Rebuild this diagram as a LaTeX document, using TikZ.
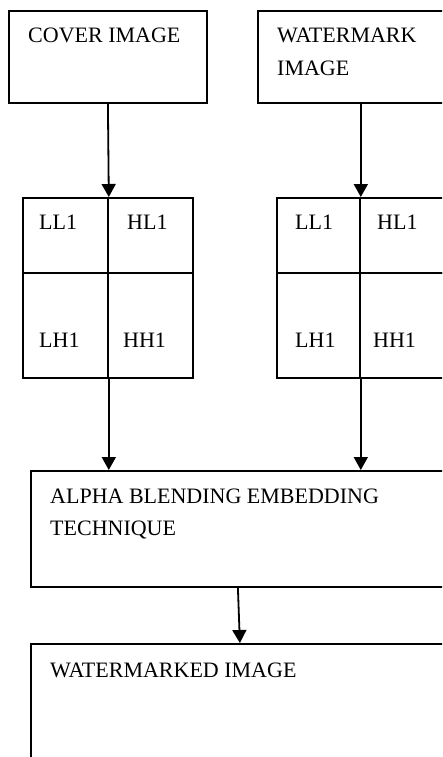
\documentclass[tikz,border=0pt]{standalone}
\usepackage{fontspec}
\setmainfont{Liberation Serif}
\usetikzlibrary{arrows.meta}

\begin{document}
\begin{tikzpicture}
		[x=1pt,y=-1pt,
		 box/.style= {draw=black,line width=1.8pt,inner sep=0pt,anchor=north west},
		 txt/.style= {inner sep=0pt,anchor=base west,align=left,font=\fontsize{22}{32.5}\selectfont},
		 flow/.style= {line width=1.8pt,-{Triangle[width=14pt,length=13pt]}}]

		\useasboundingbox (0,0) rectangle (442,757);
		\clip (0,0) rectangle (442,757);

		% input images
		\node[box,minimum width=198pt,minimum height=92pt] (cover) at (8,10) {};
		\node[txt] (covertxt) at (28,43) {COVER IMAGE};

		\node[box,minimum width=198pt,minimum height=92pt] (wm) at (257,10) {};
		\node[txt] (wmtxt) at (277,75.5) {WATERMARK\\IMAGE};

		% left sub-bands
		\node[box,minimum width=85pt,minimum height=75pt] (lll) at (22,197) {};
		\node[box,minimum width=85pt,minimum height=75pt] (lhl) at (107,197) {};
		\node[box,minimum width=85pt,minimum height=105pt] (llh) at (22,272) {};
		\node[box,minimum width=85pt,minimum height=105pt] (lhh) at (107,272) {};
		\node[txt] (llltxt) at (39,229) {LL1};
		\node[txt] (lhltxt) at (127,229) {HL1};
		\node[txt] (llhtxt) at (39,347) {LH1};
		\node[txt] (lhhtxt) at (123,347) {HH1};

		% right sub-bands
		\node[box,minimum width=83pt,minimum height=75pt] (rll) at (276,197) {};
		\node[box,minimum width=87pt,minimum height=75pt] (rhl) at (359,197) {};
		\node[box,minimum width=83pt,minimum height=105pt] (rlh) at (276,272) {};
		\node[box,minimum width=87pt,minimum height=105pt] (rhh) at (359,272) {};
		\node[txt] (rlltxt) at (295,229) {LL1};
		\node[txt] (rhltxt) at (377,229) {HL1};
		\node[txt] (rlhtxt) at (295,347) {LH1};
		\node[txt] (rhhtxt) at (373,347) {HH1};

		% embedding and output
		\node[box,minimum width=414pt,minimum height=116pt] (alpha) at (30,470) {};
		\node[txt] (alphatxt) at (50,535.5) {ALPHA BLENDING EMBEDDING\\TECHNIQUE};

		\node[box,minimum width=418pt,minimum height=150pt] (wmd) at (30,643) {};
		\node[txt] (wmdtxt) at (50,677) {WATERMARKED IMAGE};

		\draw[flow] (cover.south) -- (lll.north east);
		\draw[flow] (wm.south -| rll.north east) -- (rll.north east);
		\draw[flow] (llh.south east) -- (llh.south east |- alpha.north);
		\draw[flow] (rlh.south east) -- (rlh.south east |- alpha.north);
		\draw[flow] (alpha.south) -- (wmd.north);

	\end{tikzpicture}
\end{document}
